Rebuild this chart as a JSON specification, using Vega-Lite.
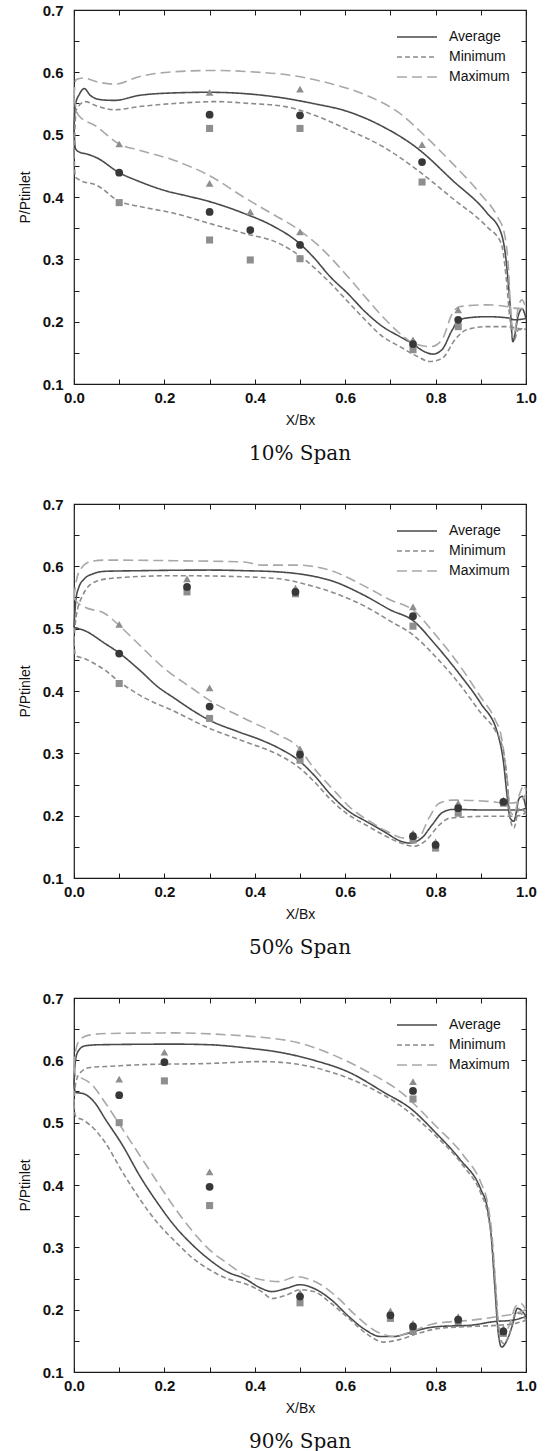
{
  "$schema": "https://vega.github.io/schema/vega-lite/v6.json",
  "background": "white",
  "padding": {"left": 17, "top": 2, "right": 5, "bottom": 0},
  "datasets": {
    "curves": [
      {"panel":"10","series":"Average","side":"upper","x":0,"y":0.51},{"panel":"10","series":"Average","side":"upper","x":0.003,"y":0.548},{"panel":"10","series":"Average","side":"upper","x":0.012,"y":0.565},{"panel":"10","series":"Average","side":"upper","x":0.023,"y":0.574},{"panel":"10","series":"Average","side":"upper","x":0.036,"y":0.563},{"panel":"10","series":"Average","side":"upper","x":0.06,"y":0.556},{"panel":"10","series":"Average","side":"upper","x":0.09,"y":0.555},{"panel":"10","series":"Average","side":"upper","x":0.144,"y":0.563},{"panel":"10","series":"Average","side":"upper","x":0.221,"y":0.567},{"panel":"10","series":"Average","side":"upper","x":0.298,"y":0.568},{"panel":"10","series":"Average","side":"upper","x":0.375,"y":0.566},{"panel":"10","series":"Average","side":"upper","x":0.452,"y":0.56},{"panel":"10","series":"Average","side":"upper","x":0.529,"y":0.55},{"panel":"10","series":"Average","side":"upper","x":0.606,"y":0.537},{"panel":"10","series":"Average","side":"upper","x":0.683,"y":0.513},{"panel":"10","series":"Average","side":"upper","x":0.76,"y":0.478},{"panel":"10","series":"Average","side":"upper","x":0.837,"y":0.427},{"panel":"10","series":"Average","side":"upper","x":0.914,"y":0.374},{"panel":"10","series":"Average","side":"upper","x":0.945,"y":0.342},{"panel":"10","series":"Average","side":"upper","x":0.954,"y":0.31},{"panel":"10","series":"Average","side":"upper","x":0.964,"y":0.235},{"panel":"10","series":"Average","side":"upper","x":0.971,"y":0.168},{"panel":"10","series":"Average","side":"upper","x":0.983,"y":0.21},{"panel":"10","series":"Average","side":"upper","x":0.991,"y":0.221},{"panel":"10","series":"Average","side":"upper","x":1.0,"y":0.205},
      {"panel":"10","series":"Average","side":"lower","x":0,"y":0.51},{"panel":"10","series":"Average","side":"lower","x":0.003,"y":0.478},{"panel":"10","series":"Average","side":"lower","x":0.012,"y":0.472},{"panel":"10","series":"Average","side":"lower","x":0.028,"y":0.469},{"panel":"10","series":"Average","side":"lower","x":0.05,"y":0.463},{"panel":"10","series":"Average","side":"lower","x":0.1,"y":0.439},{"panel":"10","series":"Average","side":"lower","x":0.144,"y":0.425},{"panel":"10","series":"Average","side":"lower","x":0.198,"y":0.411},{"panel":"10","series":"Average","side":"lower","x":0.26,"y":0.4},{"panel":"10","series":"Average","side":"lower","x":0.298,"y":0.393},{"panel":"10","series":"Average","side":"lower","x":0.375,"y":0.374},{"panel":"10","series":"Average","side":"lower","x":0.436,"y":0.355},{"panel":"10","series":"Average","side":"lower","x":0.498,"y":0.326},{"panel":"10","series":"Average","side":"lower","x":0.529,"y":0.304},{"panel":"10","series":"Average","side":"lower","x":0.567,"y":0.272},{"panel":"10","series":"Average","side":"lower","x":0.606,"y":0.245},{"panel":"10","series":"Average","side":"lower","x":0.644,"y":0.216},{"panel":"10","series":"Average","side":"lower","x":0.683,"y":0.192},{"panel":"10","series":"Average","side":"lower","x":0.721,"y":0.176},{"panel":"10","series":"Average","side":"lower","x":0.748,"y":0.165},{"panel":"10","series":"Average","side":"lower","x":0.775,"y":0.152},{"panel":"10","series":"Average","side":"lower","x":0.794,"y":0.148},{"panel":"10","series":"Average","side":"lower","x":0.814,"y":0.155},{"panel":"10","series":"Average","side":"lower","x":0.837,"y":0.187},{"panel":"10","series":"Average","side":"lower","x":0.852,"y":0.203},{"panel":"10","series":"Average","side":"lower","x":0.883,"y":0.207},{"panel":"10","series":"Average","side":"lower","x":0.914,"y":0.208},{"panel":"10","series":"Average","side":"lower","x":0.96,"y":0.206},{"panel":"10","series":"Average","side":"lower","x":0.975,"y":0.203},{"panel":"10","series":"Average","side":"lower","x":1.0,"y":0.205},
      {"panel":"10","series":"Maximum","side":"upper","x":0,"y":0.56},{"panel":"10","series":"Maximum","side":"upper","x":0.004,"y":0.588},{"panel":"10","series":"Maximum","side":"upper","x":0.021,"y":0.591},{"panel":"10","series":"Maximum","side":"upper","x":0.05,"y":0.585},{"panel":"10","series":"Maximum","side":"upper","x":0.09,"y":0.581},{"panel":"10","series":"Maximum","side":"upper","x":0.144,"y":0.593},{"panel":"10","series":"Maximum","side":"upper","x":0.221,"y":0.601},{"panel":"10","series":"Maximum","side":"upper","x":0.313,"y":0.603},{"panel":"10","series":"Maximum","side":"upper","x":0.39,"y":0.601},{"panel":"10","series":"Maximum","side":"upper","x":0.49,"y":0.594},{"panel":"10","series":"Maximum","side":"upper","x":0.567,"y":0.582},{"panel":"10","series":"Maximum","side":"upper","x":0.644,"y":0.564},{"panel":"10","series":"Maximum","side":"upper","x":0.721,"y":0.534},{"panel":"10","series":"Maximum","side":"upper","x":0.775,"y":0.499},{"panel":"10","series":"Maximum","side":"upper","x":0.837,"y":0.454},{"panel":"10","series":"Maximum","side":"upper","x":0.898,"y":0.406},{"panel":"10","series":"Maximum","side":"upper","x":0.937,"y":0.368},{"panel":"10","series":"Maximum","side":"upper","x":0.952,"y":0.342},{"panel":"10","series":"Maximum","side":"upper","x":0.961,"y":0.288},{"panel":"10","series":"Maximum","side":"upper","x":0.967,"y":0.208},{"panel":"10","series":"Maximum","side":"upper","x":0.974,"y":0.181},{"panel":"10","series":"Maximum","side":"upper","x":0.983,"y":0.224},{"panel":"10","series":"Maximum","side":"upper","x":0.991,"y":0.235},{"panel":"10","series":"Maximum","side":"upper","x":1.0,"y":0.221},
      {"panel":"10","series":"Maximum","side":"lower","x":0,"y":0.56},{"panel":"10","series":"Maximum","side":"lower","x":0.009,"y":0.532},{"panel":"10","series":"Maximum","side":"lower","x":0.05,"y":0.513},{"panel":"10","series":"Maximum","side":"lower","x":0.1,"y":0.485},{"panel":"10","series":"Maximum","side":"lower","x":0.144,"y":0.475},{"panel":"10","series":"Maximum","side":"lower","x":0.221,"y":0.459},{"panel":"10","series":"Maximum","side":"lower","x":0.298,"y":0.435},{"panel":"10","series":"Maximum","side":"lower","x":0.375,"y":0.4},{"panel":"10","series":"Maximum","side":"lower","x":0.436,"y":0.374},{"panel":"10","series":"Maximum","side":"lower","x":0.498,"y":0.347},{"panel":"10","series":"Maximum","side":"lower","x":0.544,"y":0.32},{"panel":"10","series":"Maximum","side":"lower","x":0.606,"y":0.272},{"panel":"10","series":"Maximum","side":"lower","x":0.644,"y":0.24},{"panel":"10","series":"Maximum","side":"lower","x":0.683,"y":0.208},{"panel":"10","series":"Maximum","side":"lower","x":0.721,"y":0.181},{"panel":"10","series":"Maximum","side":"lower","x":0.752,"y":0.165},{"panel":"10","series":"Maximum","side":"lower","x":0.79,"y":0.16},{"panel":"10","series":"Maximum","side":"lower","x":0.814,"y":0.171},{"panel":"10","series":"Maximum","side":"lower","x":0.837,"y":0.213},{"panel":"10","series":"Maximum","side":"lower","x":0.852,"y":0.224},{"panel":"10","series":"Maximum","side":"lower","x":0.914,"y":0.227},{"panel":"10","series":"Maximum","side":"lower","x":0.96,"y":0.224},{"panel":"10","series":"Maximum","side":"lower","x":0.983,"y":0.221},{"panel":"10","series":"Maximum","side":"lower","x":1.0,"y":0.221},
      {"panel":"10","series":"Minimum","side":"upper","x":0,"y":0.47},{"panel":"10","series":"Minimum","side":"upper","x":0.005,"y":0.54},{"panel":"10","series":"Minimum","side":"upper","x":0.025,"y":0.553},{"panel":"10","series":"Minimum","side":"upper","x":0.05,"y":0.546},{"panel":"10","series":"Minimum","side":"upper","x":0.09,"y":0.54},{"panel":"10","series":"Minimum","side":"upper","x":0.144,"y":0.545},{"panel":"10","series":"Minimum","side":"upper","x":0.221,"y":0.55},{"panel":"10","series":"Minimum","side":"upper","x":0.313,"y":0.553},{"panel":"10","series":"Minimum","side":"upper","x":0.39,"y":0.55},{"panel":"10","series":"Minimum","side":"upper","x":0.468,"y":0.545},{"panel":"10","series":"Minimum","side":"upper","x":0.529,"y":0.532},{"panel":"10","series":"Minimum","side":"upper","x":0.606,"y":0.508},{"panel":"10","series":"Minimum","side":"upper","x":0.683,"y":0.481},{"panel":"10","series":"Minimum","side":"upper","x":0.76,"y":0.443},{"panel":"10","series":"Minimum","side":"upper","x":0.837,"y":0.398},{"panel":"10","series":"Minimum","side":"upper","x":0.914,"y":0.352},{"panel":"10","series":"Minimum","side":"upper","x":0.945,"y":0.326},{"panel":"10","series":"Minimum","side":"upper","x":0.956,"y":0.272},{"panel":"10","series":"Minimum","side":"upper","x":0.964,"y":0.208},{"panel":"10","series":"Minimum","side":"upper","x":0.974,"y":0.171},{"panel":"10","series":"Minimum","side":"upper","x":0.983,"y":0.187},{"panel":"10","series":"Minimum","side":"upper","x":1.0,"y":0.188},
      {"panel":"10","series":"Minimum","side":"lower","x":0,"y":0.47},{"panel":"10","series":"Minimum","side":"lower","x":0.003,"y":0.432},{"panel":"10","series":"Minimum","side":"lower","x":0.013,"y":0.427},{"panel":"10","series":"Minimum","side":"lower","x":0.05,"y":0.419},{"panel":"10","series":"Minimum","side":"lower","x":0.1,"y":0.393},{"panel":"10","series":"Minimum","side":"lower","x":0.144,"y":0.385},{"panel":"10","series":"Minimum","side":"lower","x":0.221,"y":0.374},{"panel":"10","series":"Minimum","side":"lower","x":0.298,"y":0.358},{"panel":"10","series":"Minimum","side":"lower","x":0.375,"y":0.342},{"panel":"10","series":"Minimum","side":"lower","x":0.452,"y":0.326},{"panel":"10","series":"Minimum","side":"lower","x":0.506,"y":0.302},{"panel":"10","series":"Minimum","side":"lower","x":0.567,"y":0.262},{"panel":"10","series":"Minimum","side":"lower","x":0.606,"y":0.232},{"panel":"10","series":"Minimum","side":"lower","x":0.644,"y":0.203},{"panel":"10","series":"Minimum","side":"lower","x":0.683,"y":0.176},{"panel":"10","series":"Minimum","side":"lower","x":0.721,"y":0.16},{"panel":"10","series":"Minimum","side":"lower","x":0.76,"y":0.144},{"panel":"10","series":"Minimum","side":"lower","x":0.787,"y":0.136},{"panel":"10","series":"Minimum","side":"lower","x":0.814,"y":0.141},{"panel":"10","series":"Minimum","side":"lower","x":0.845,"y":0.173},{"panel":"10","series":"Minimum","side":"lower","x":0.868,"y":0.187},{"panel":"10","series":"Minimum","side":"lower","x":0.914,"y":0.192},{"panel":"10","series":"Minimum","side":"lower","x":0.96,"y":0.192},{"panel":"10","series":"Minimum","side":"lower","x":0.983,"y":0.189},{"panel":"10","series":"Minimum","side":"lower","x":1.0,"y":0.188},

      {"panel":"50","series":"Average","side":"upper","x":0,"y":0.502},{"panel":"50","series":"Average","side":"upper","x":0.004,"y":0.545},{"panel":"50","series":"Average","side":"upper","x":0.01,"y":0.565},{"panel":"50","series":"Average","side":"upper","x":0.023,"y":0.58},{"panel":"50","series":"Average","side":"upper","x":0.042,"y":0.588},{"panel":"50","series":"Average","side":"upper","x":0.069,"y":0.592},{"panel":"50","series":"Average","side":"upper","x":0.146,"y":0.593},{"panel":"50","series":"Average","side":"upper","x":0.3,"y":0.594},{"panel":"50","series":"Average","side":"upper","x":0.377,"y":0.593},{"panel":"50","series":"Average","side":"upper","x":0.454,"y":0.591},{"panel":"50","series":"Average","side":"upper","x":0.515,"y":0.586},{"panel":"50","series":"Average","side":"upper","x":0.569,"y":0.577},{"panel":"50","series":"Average","side":"upper","x":0.646,"y":0.552},{"panel":"50","series":"Average","side":"upper","x":0.7,"y":0.53},{"panel":"50","series":"Average","side":"upper","x":0.75,"y":0.513},{"panel":"50","series":"Average","side":"upper","x":0.8,"y":0.474},{"panel":"50","series":"Average","side":"upper","x":0.854,"y":0.426},{"panel":"50","series":"Average","side":"upper","x":0.9,"y":0.38},{"panel":"50","series":"Average","side":"upper","x":0.938,"y":0.33},{"panel":"50","series":"Average","side":"upper","x":0.95,"y":0.287},{"panel":"50","series":"Average","side":"upper","x":0.958,"y":0.233},{"panel":"50","series":"Average","side":"upper","x":0.965,"y":0.196},{"panel":"50","series":"Average","side":"upper","x":0.973,"y":0.191},{"panel":"50","series":"Average","side":"upper","x":0.985,"y":0.228},{"panel":"50","series":"Average","side":"upper","x":0.992,"y":0.231},{"panel":"50","series":"Average","side":"upper","x":1.0,"y":0.212},
      {"panel":"50","series":"Average","side":"lower","x":0,"y":0.502},{"panel":"50","series":"Average","side":"lower","x":0.023,"y":0.497},{"panel":"50","series":"Average","side":"lower","x":0.069,"y":0.476},{"panel":"50","series":"Average","side":"lower","x":0.1,"y":0.461},{"panel":"50","series":"Average","side":"lower","x":0.146,"y":0.433},{"panel":"50","series":"Average","side":"lower","x":0.185,"y":0.407},{"panel":"50","series":"Average","side":"lower","x":0.223,"y":0.388},{"panel":"50","series":"Average","side":"lower","x":0.262,"y":0.369},{"panel":"50","series":"Average","side":"lower","x":0.3,"y":0.353},{"panel":"50","series":"Average","side":"lower","x":0.362,"y":0.335},{"panel":"50","series":"Average","side":"lower","x":0.415,"y":0.321},{"panel":"50","series":"Average","side":"lower","x":0.454,"y":0.308},{"panel":"50","series":"Average","side":"lower","x":0.5,"y":0.287},{"panel":"50","series":"Average","side":"lower","x":0.531,"y":0.265},{"panel":"50","series":"Average","side":"lower","x":0.569,"y":0.233},{"panel":"50","series":"Average","side":"lower","x":0.608,"y":0.207},{"panel":"50","series":"Average","side":"lower","x":0.646,"y":0.191},{"panel":"50","series":"Average","side":"lower","x":0.685,"y":0.175},{"panel":"50","series":"Average","side":"lower","x":0.723,"y":0.159},{"panel":"50","series":"Average","side":"lower","x":0.742,"y":0.156},{"panel":"50","series":"Average","side":"lower","x":0.769,"y":0.164},{"panel":"50","series":"Average","side":"lower","x":0.792,"y":0.185},{"panel":"50","series":"Average","side":"lower","x":0.815,"y":0.205},{"panel":"50","series":"Average","side":"lower","x":0.838,"y":0.21},{"panel":"50","series":"Average","side":"lower","x":0.915,"y":0.209},{"panel":"50","series":"Average","side":"lower","x":0.962,"y":0.209},{"panel":"50","series":"Average","side":"lower","x":0.985,"y":0.209},{"panel":"50","series":"Average","side":"lower","x":1.0,"y":0.212},
      {"panel":"50","series":"Maximum","side":"upper","x":0,"y":0.55},{"panel":"50","series":"Maximum","side":"upper","x":0.004,"y":0.572},{"panel":"50","series":"Maximum","side":"upper","x":0.015,"y":0.596},{"panel":"50","series":"Maximum","side":"upper","x":0.038,"y":0.608},{"panel":"50","series":"Maximum","side":"upper","x":0.069,"y":0.61},{"panel":"50","series":"Maximum","side":"upper","x":0.223,"y":0.609},{"panel":"50","series":"Maximum","side":"upper","x":0.377,"y":0.607},{"panel":"50","series":"Maximum","side":"upper","x":0.415,"y":0.602},{"panel":"50","series":"Maximum","side":"upper","x":0.492,"y":0.602},{"panel":"50","series":"Maximum","side":"upper","x":0.569,"y":0.593},{"panel":"50","series":"Maximum","side":"upper","x":0.646,"y":0.567},{"panel":"50","series":"Maximum","side":"upper","x":0.7,"y":0.546},{"panel":"50","series":"Maximum","side":"upper","x":0.75,"y":0.53},{"panel":"50","series":"Maximum","side":"upper","x":0.8,"y":0.49},{"panel":"50","series":"Maximum","side":"upper","x":0.854,"y":0.44},{"panel":"50","series":"Maximum","side":"upper","x":0.9,"y":0.39},{"panel":"50","series":"Maximum","side":"upper","x":0.931,"y":0.355},{"panel":"50","series":"Maximum","side":"upper","x":0.946,"y":0.325},{"panel":"50","series":"Maximum","side":"upper","x":0.958,"y":0.26},{"panel":"50","series":"Maximum","side":"upper","x":0.965,"y":0.207},{"panel":"50","series":"Maximum","side":"upper","x":0.973,"y":0.201},{"panel":"50","series":"Maximum","side":"upper","x":0.985,"y":0.233},{"panel":"50","series":"Maximum","side":"upper","x":0.996,"y":0.249},{"panel":"50","series":"Maximum","side":"upper","x":1.0,"y":0.24},
      {"panel":"50","series":"Maximum","side":"lower","x":0,"y":0.55},{"panel":"50","series":"Maximum","side":"lower","x":0.004,"y":0.545},{"panel":"50","series":"Maximum","side":"lower","x":0.023,"y":0.535},{"panel":"50","series":"Maximum","side":"lower","x":0.069,"y":0.524},{"panel":"50","series":"Maximum","side":"lower","x":0.1,"y":0.505},{"panel":"50","series":"Maximum","side":"lower","x":0.146,"y":0.473},{"panel":"50","series":"Maximum","side":"lower","x":0.2,"y":0.436},{"panel":"50","series":"Maximum","side":"lower","x":0.262,"y":0.404},{"panel":"50","series":"Maximum","side":"lower","x":0.3,"y":0.385},{"panel":"50","series":"Maximum","side":"lower","x":0.377,"y":0.356},{"panel":"50","series":"Maximum","side":"lower","x":0.454,"y":0.329},{"panel":"50","series":"Maximum","side":"lower","x":0.492,"y":0.313},{"panel":"50","series":"Maximum","side":"lower","x":0.531,"y":0.276},{"panel":"50","series":"Maximum","side":"lower","x":0.577,"y":0.239},{"panel":"50","series":"Maximum","side":"lower","x":0.608,"y":0.215},{"panel":"50","series":"Maximum","side":"lower","x":0.654,"y":0.191},{"panel":"50","series":"Maximum","side":"lower","x":0.692,"y":0.175},{"panel":"50","series":"Maximum","side":"lower","x":0.731,"y":0.164},{"panel":"50","series":"Maximum","side":"lower","x":0.762,"y":0.165},{"panel":"50","series":"Maximum","side":"lower","x":0.785,"y":0.196},{"panel":"50","series":"Maximum","side":"lower","x":0.808,"y":0.22},{"panel":"50","series":"Maximum","side":"lower","x":0.838,"y":0.225},{"panel":"50","series":"Maximum","side":"lower","x":0.915,"y":0.223},{"panel":"50","series":"Maximum","side":"lower","x":0.962,"y":0.22},{"panel":"50","series":"Maximum","side":"lower","x":0.985,"y":0.222},{"panel":"50","series":"Maximum","side":"lower","x":1.0,"y":0.235},
      {"panel":"50","series":"Minimum","side":"upper","x":0,"y":0.48},{"panel":"50","series":"Minimum","side":"upper","x":0.004,"y":0.516},{"panel":"50","series":"Minimum","side":"upper","x":0.019,"y":0.553},{"panel":"50","series":"Minimum","side":"upper","x":0.046,"y":0.575},{"panel":"50","series":"Minimum","side":"upper","x":0.085,"y":0.581},{"panel":"50","series":"Minimum","side":"upper","x":0.223,"y":0.585},{"panel":"50","series":"Minimum","side":"upper","x":0.338,"y":0.584},{"panel":"50","series":"Minimum","side":"upper","x":0.454,"y":0.58},{"panel":"50","series":"Minimum","side":"upper","x":0.508,"y":0.572},{"panel":"50","series":"Minimum","side":"upper","x":0.569,"y":0.559},{"panel":"50","series":"Minimum","side":"upper","x":0.646,"y":0.535},{"panel":"50","series":"Minimum","side":"upper","x":0.7,"y":0.512},{"panel":"50","series":"Minimum","side":"upper","x":0.75,"y":0.49},{"panel":"50","series":"Minimum","side":"upper","x":0.8,"y":0.455},{"panel":"50","series":"Minimum","side":"upper","x":0.854,"y":0.41},{"panel":"50","series":"Minimum","side":"upper","x":0.9,"y":0.365},{"panel":"50","series":"Minimum","side":"upper","x":0.931,"y":0.338},{"panel":"50","series":"Minimum","side":"upper","x":0.946,"y":0.315},{"panel":"50","series":"Minimum","side":"upper","x":0.958,"y":0.26},{"panel":"50","series":"Minimum","side":"upper","x":0.965,"y":0.196},{"panel":"50","series":"Minimum","side":"upper","x":0.973,"y":0.18},{"panel":"50","series":"Minimum","side":"upper","x":0.985,"y":0.212},{"panel":"50","series":"Minimum","side":"upper","x":1.0,"y":0.205},
      {"panel":"50","series":"Minimum","side":"lower","x":0,"y":0.48},{"panel":"50","series":"Minimum","side":"lower","x":0.003,"y":0.457},{"panel":"50","series":"Minimum","side":"lower","x":0.023,"y":0.452},{"panel":"50","series":"Minimum","side":"lower","x":0.069,"y":0.433},{"panel":"50","series":"Minimum","side":"lower","x":0.1,"y":0.415},{"panel":"50","series":"Minimum","side":"lower","x":0.146,"y":0.393},{"panel":"50","series":"Minimum","side":"lower","x":0.223,"y":0.367},{"panel":"50","series":"Minimum","side":"lower","x":0.3,"y":0.34},{"panel":"50","series":"Minimum","side":"lower","x":0.377,"y":0.319},{"panel":"50","series":"Minimum","side":"lower","x":0.454,"y":0.297},{"panel":"50","series":"Minimum","side":"lower","x":0.5,"y":0.276},{"panel":"50","series":"Minimum","side":"lower","x":0.531,"y":0.255},{"panel":"50","series":"Minimum","side":"lower","x":0.569,"y":0.225},{"panel":"50","series":"Minimum","side":"lower","x":0.608,"y":0.201},{"panel":"50","series":"Minimum","side":"lower","x":0.646,"y":0.185},{"panel":"50","series":"Minimum","side":"lower","x":0.685,"y":0.169},{"panel":"50","series":"Minimum","side":"lower","x":0.723,"y":0.156},{"panel":"50","series":"Minimum","side":"lower","x":0.754,"y":0.151},{"panel":"50","series":"Minimum","side":"lower","x":0.777,"y":0.159},{"panel":"50","series":"Minimum","side":"lower","x":0.808,"y":0.185},{"panel":"50","series":"Minimum","side":"lower","x":0.831,"y":0.196},{"panel":"50","series":"Minimum","side":"lower","x":0.915,"y":0.199},{"panel":"50","series":"Minimum","side":"lower","x":0.962,"y":0.199},{"panel":"50","series":"Minimum","side":"lower","x":0.985,"y":0.2},{"panel":"50","series":"Minimum","side":"lower","x":1.0,"y":0.205},

      {"panel":"90","series":"Average","side":"upper","x":0,"y":0.56},{"panel":"90","series":"Average","side":"upper","x":0.002,"y":0.592},{"panel":"90","series":"Average","side":"upper","x":0.008,"y":0.613},{"panel":"90","series":"Average","side":"upper","x":0.023,"y":0.623},{"panel":"90","series":"Average","side":"upper","x":0.054,"y":0.625},{"panel":"90","series":"Average","side":"upper","x":0.223,"y":0.626},{"panel":"90","series":"Average","side":"upper","x":0.3,"y":0.625},{"panel":"90","series":"Average","side":"upper","x":0.392,"y":0.619},{"panel":"90","series":"Average","side":"upper","x":0.454,"y":0.613},{"panel":"90","series":"Average","side":"upper","x":0.531,"y":0.6},{"panel":"90","series":"Average","side":"upper","x":0.608,"y":0.581},{"panel":"90","series":"Average","side":"upper","x":0.685,"y":0.549},{"panel":"90","series":"Average","side":"upper","x":0.746,"y":0.522},{"panel":"90","series":"Average","side":"upper","x":0.8,"y":0.484},{"panel":"90","series":"Average","side":"upper","x":0.854,"y":0.441},{"panel":"90","series":"Average","side":"upper","x":0.9,"y":0.393},{"panel":"90","series":"Average","side":"upper","x":0.915,"y":0.361},{"panel":"90","series":"Average","side":"upper","x":0.923,"y":0.318},{"panel":"90","series":"Average","side":"upper","x":0.931,"y":0.237},{"panel":"90","series":"Average","side":"upper","x":0.938,"y":0.167},{"panel":"90","series":"Average","side":"upper","x":0.946,"y":0.14},{"panel":"90","series":"Average","side":"upper","x":0.958,"y":0.151},{"panel":"90","series":"Average","side":"upper","x":0.969,"y":0.173},{"panel":"90","series":"Average","side":"upper","x":0.981,"y":0.202},{"panel":"90","series":"Average","side":"upper","x":0.988,"y":0.2},{"panel":"90","series":"Average","side":"upper","x":1.0,"y":0.189},
      {"panel":"90","series":"Average","side":"lower","x":0,"y":0.56},{"panel":"90","series":"Average","side":"lower","x":0.003,"y":0.549},{"panel":"90","series":"Average","side":"lower","x":0.023,"y":0.546},{"panel":"90","series":"Average","side":"lower","x":0.046,"y":0.532},{"panel":"90","series":"Average","side":"lower","x":0.069,"y":0.506},{"panel":"90","series":"Average","side":"lower","x":0.108,"y":0.463},{"panel":"90","series":"Average","side":"lower","x":0.146,"y":0.414},{"panel":"90","series":"Average","side":"lower","x":0.185,"y":0.371},{"panel":"90","series":"Average","side":"lower","x":0.223,"y":0.334},{"panel":"90","series":"Average","side":"lower","x":0.262,"y":0.304},{"panel":"90","series":"Average","side":"lower","x":0.3,"y":0.28},{"panel":"90","series":"Average","side":"lower","x":0.338,"y":0.261},{"panel":"90","series":"Average","side":"lower","x":0.377,"y":0.25},{"panel":"90","series":"Average","side":"lower","x":0.415,"y":0.234},{"panel":"90","series":"Average","side":"lower","x":0.438,"y":0.229},{"panel":"90","series":"Average","side":"lower","x":0.469,"y":0.234},{"panel":"90","series":"Average","side":"lower","x":0.5,"y":0.24},{"panel":"90","series":"Average","side":"lower","x":0.531,"y":0.234},{"panel":"90","series":"Average","side":"lower","x":0.569,"y":0.216},{"panel":"90","series":"Average","side":"lower","x":0.608,"y":0.189},{"panel":"90","series":"Average","side":"lower","x":0.646,"y":0.167},{"panel":"90","series":"Average","side":"lower","x":0.677,"y":0.157},{"panel":"90","series":"Average","side":"lower","x":0.708,"y":0.157},{"panel":"90","series":"Average","side":"lower","x":0.738,"y":0.162},{"panel":"90","series":"Average","side":"lower","x":0.777,"y":0.17},{"panel":"90","series":"Average","side":"lower","x":0.808,"y":0.173},{"panel":"90","series":"Average","side":"lower","x":0.877,"y":0.175},{"panel":"90","series":"Average","side":"lower","x":0.931,"y":0.181},{"panel":"90","series":"Average","side":"lower","x":0.969,"y":0.183},{"panel":"90","series":"Average","side":"lower","x":1.0,"y":0.189},
      {"panel":"90","series":"Maximum","side":"upper","x":0,"y":0.59},{"panel":"90","series":"Maximum","side":"upper","x":0.003,"y":0.613},{"panel":"90","series":"Maximum","side":"upper","x":0.012,"y":0.632},{"panel":"90","series":"Maximum","side":"upper","x":0.031,"y":0.64},{"panel":"90","series":"Maximum","side":"upper","x":0.069,"y":0.643},{"panel":"90","series":"Maximum","side":"upper","x":0.223,"y":0.644},{"panel":"90","series":"Maximum","side":"upper","x":0.338,"y":0.641},{"panel":"90","series":"Maximum","side":"upper","x":0.415,"y":0.637},{"panel":"90","series":"Maximum","side":"upper","x":0.492,"y":0.629},{"panel":"90","series":"Maximum","side":"upper","x":0.569,"y":0.61},{"panel":"90","series":"Maximum","side":"upper","x":0.646,"y":0.583},{"panel":"90","series":"Maximum","side":"upper","x":0.723,"y":0.549},{"panel":"90","series":"Maximum","side":"upper","x":0.8,"y":0.495},{"panel":"90","series":"Maximum","side":"upper","x":0.862,"y":0.447},{"panel":"90","series":"Maximum","side":"upper","x":0.9,"y":0.404},{"panel":"90","series":"Maximum","side":"upper","x":0.915,"y":0.371},{"panel":"90","series":"Maximum","side":"upper","x":0.925,"y":0.318},{"panel":"90","series":"Maximum","side":"upper","x":0.933,"y":0.237},{"panel":"90","series":"Maximum","side":"upper","x":0.94,"y":0.173},{"panel":"90","series":"Maximum","side":"upper","x":0.95,"y":0.162},{"panel":"90","series":"Maximum","side":"upper","x":0.962,"y":0.173},{"panel":"90","series":"Maximum","side":"upper","x":0.977,"y":0.205},{"panel":"90","series":"Maximum","side":"upper","x":0.988,"y":0.21},{"panel":"90","series":"Maximum","side":"upper","x":1.0,"y":0.2},
      {"panel":"90","series":"Maximum","side":"lower","x":0,"y":0.59},{"panel":"90","series":"Maximum","side":"lower","x":0.004,"y":0.575},{"panel":"90","series":"Maximum","side":"lower","x":0.015,"y":0.572},{"panel":"90","series":"Maximum","side":"lower","x":0.038,"y":0.562},{"panel":"90","series":"Maximum","side":"lower","x":0.069,"y":0.532},{"panel":"90","series":"Maximum","side":"lower","x":0.108,"y":0.489},{"panel":"90","series":"Maximum","side":"lower","x":0.146,"y":0.447},{"panel":"90","series":"Maximum","side":"lower","x":0.185,"y":0.404},{"panel":"90","series":"Maximum","side":"lower","x":0.223,"y":0.363},{"panel":"90","series":"Maximum","side":"lower","x":0.262,"y":0.326},{"panel":"90","series":"Maximum","side":"lower","x":0.3,"y":0.296},{"panel":"90","series":"Maximum","side":"lower","x":0.338,"y":0.275},{"panel":"90","series":"Maximum","side":"lower","x":0.377,"y":0.256},{"panel":"90","series":"Maximum","side":"lower","x":0.415,"y":0.248},{"panel":"90","series":"Maximum","side":"lower","x":0.454,"y":0.245},{"panel":"90","series":"Maximum","side":"lower","x":0.492,"y":0.253},{"panel":"90","series":"Maximum","side":"lower","x":0.515,"y":0.25},{"panel":"90","series":"Maximum","side":"lower","x":0.546,"y":0.24},{"panel":"90","series":"Maximum","side":"lower","x":0.585,"y":0.218},{"panel":"90","series":"Maximum","side":"lower","x":0.623,"y":0.191},{"panel":"90","series":"Maximum","side":"lower","x":0.669,"y":0.165},{"panel":"90","series":"Maximum","side":"lower","x":0.708,"y":0.157},{"panel":"90","series":"Maximum","side":"lower","x":0.746,"y":0.165},{"panel":"90","series":"Maximum","side":"lower","x":0.8,"y":0.178},{"panel":"90","series":"Maximum","side":"lower","x":0.877,"y":0.183},{"panel":"90","series":"Maximum","side":"lower","x":0.938,"y":0.189},{"panel":"90","series":"Maximum","side":"lower","x":0.977,"y":0.194},{"panel":"90","series":"Maximum","side":"lower","x":1.0,"y":0.2},
      {"panel":"90","series":"Minimum","side":"upper","x":0,"y":0.53},{"panel":"90","series":"Minimum","side":"upper","x":0.004,"y":0.565},{"panel":"90","series":"Minimum","side":"upper","x":0.015,"y":0.581},{"panel":"90","series":"Minimum","side":"upper","x":0.038,"y":0.589},{"panel":"90","series":"Minimum","side":"upper","x":0.069,"y":0.59},{"panel":"90","series":"Minimum","side":"upper","x":0.146,"y":0.593},{"panel":"90","series":"Minimum","side":"upper","x":0.3,"y":0.595},{"panel":"90","series":"Minimum","side":"upper","x":0.415,"y":0.598},{"panel":"90","series":"Minimum","side":"upper","x":0.492,"y":0.594},{"panel":"90","series":"Minimum","side":"upper","x":0.569,"y":0.581},{"panel":"90","series":"Minimum","side":"upper","x":0.646,"y":0.559},{"panel":"90","series":"Minimum","side":"upper","x":0.723,"y":0.527},{"panel":"90","series":"Minimum","side":"upper","x":0.8,"y":0.479},{"panel":"90","series":"Minimum","side":"upper","x":0.862,"y":0.43},{"panel":"90","series":"Minimum","side":"upper","x":0.9,"y":0.387},{"panel":"90","series":"Minimum","side":"upper","x":0.915,"y":0.355},{"panel":"90","series":"Minimum","side":"upper","x":0.925,"y":0.307},{"panel":"90","series":"Minimum","side":"upper","x":0.933,"y":0.232},{"panel":"90","series":"Minimum","side":"upper","x":0.94,"y":0.162},{"panel":"90","series":"Minimum","side":"upper","x":0.95,"y":0.146},{"panel":"90","series":"Minimum","side":"upper","x":0.962,"y":0.157},{"panel":"90","series":"Minimum","side":"upper","x":0.977,"y":0.194},{"panel":"90","series":"Minimum","side":"upper","x":0.988,"y":0.194},{"panel":"90","series":"Minimum","side":"upper","x":1.0,"y":0.183},
      {"panel":"90","series":"Minimum","side":"lower","x":0,"y":0.53},{"panel":"90","series":"Minimum","side":"lower","x":0.003,"y":0.511},{"panel":"90","series":"Minimum","side":"lower","x":0.023,"y":0.503},{"panel":"90","series":"Minimum","side":"lower","x":0.046,"y":0.489},{"panel":"90","series":"Minimum","side":"lower","x":0.069,"y":0.468},{"panel":"90","series":"Minimum","side":"lower","x":0.108,"y":0.42},{"panel":"90","series":"Minimum","side":"lower","x":0.146,"y":0.377},{"panel":"90","series":"Minimum","side":"lower","x":0.185,"y":0.339},{"panel":"90","series":"Minimum","side":"lower","x":0.223,"y":0.31},{"panel":"90","series":"Minimum","side":"lower","x":0.262,"y":0.283},{"panel":"90","series":"Minimum","side":"lower","x":0.3,"y":0.264},{"panel":"90","series":"Minimum","side":"lower","x":0.338,"y":0.25},{"panel":"90","series":"Minimum","side":"lower","x":0.377,"y":0.242},{"panel":"90","series":"Minimum","side":"lower","x":0.415,"y":0.229},{"panel":"90","series":"Minimum","side":"lower","x":0.438,"y":0.218},{"panel":"90","series":"Minimum","side":"lower","x":0.469,"y":0.223},{"panel":"90","series":"Minimum","side":"lower","x":0.5,"y":0.232},{"panel":"90","series":"Minimum","side":"lower","x":0.531,"y":0.229},{"panel":"90","series":"Minimum","side":"lower","x":0.569,"y":0.21},{"panel":"90","series":"Minimum","side":"lower","x":0.608,"y":0.186},{"panel":"90","series":"Minimum","side":"lower","x":0.646,"y":0.162},{"panel":"90","series":"Minimum","side":"lower","x":0.685,"y":0.148},{"panel":"90","series":"Minimum","side":"lower","x":0.715,"y":0.151},{"panel":"90","series":"Minimum","side":"lower","x":0.762,"y":0.162},{"panel":"90","series":"Minimum","side":"lower","x":0.808,"y":0.17},{"panel":"90","series":"Minimum","side":"lower","x":0.877,"y":0.173},{"panel":"90","series":"Minimum","side":"lower","x":0.938,"y":0.175},{"panel":"90","series":"Minimum","side":"lower","x":0.977,"y":0.178},{"panel":"90","series":"Minimum","side":"lower","x":1.0,"y":0.183}
    ],
    "points": [
      {"panel":"10","exp":"Average","x":0.1,"y":0.439},{"panel":"10","exp":"Average","x":0.3,"y":0.532},{"panel":"10","exp":"Average","x":0.3,"y":0.376},{"panel":"10","exp":"Average","x":0.39,"y":0.347},{"panel":"10","exp":"Average","x":0.5,"y":0.531},{"panel":"10","exp":"Average","x":0.5,"y":0.323},{"panel":"10","exp":"Average","x":0.77,"y":0.456},{"panel":"10","exp":"Average","x":0.75,"y":0.164},{"panel":"10","exp":"Average","x":0.85,"y":0.203},
      {"panel":"10","exp":"Minimum","x":0.1,"y":0.391},{"panel":"10","exp":"Minimum","x":0.3,"y":0.51},{"panel":"10","exp":"Minimum","x":0.3,"y":0.331},{"panel":"10","exp":"Minimum","x":0.39,"y":0.299},{"panel":"10","exp":"Minimum","x":0.5,"y":0.51},{"panel":"10","exp":"Minimum","x":0.5,"y":0.301},{"panel":"10","exp":"Minimum","x":0.77,"y":0.424},{"panel":"10","exp":"Minimum","x":0.75,"y":0.155},{"panel":"10","exp":"Minimum","x":0.85,"y":0.192},
      {"panel":"10","exp":"Maximum","x":0.1,"y":0.485},{"panel":"10","exp":"Maximum","x":0.3,"y":0.568},{"panel":"10","exp":"Maximum","x":0.3,"y":0.422},{"panel":"10","exp":"Maximum","x":0.39,"y":0.376},{"panel":"10","exp":"Maximum","x":0.5,"y":0.573},{"panel":"10","exp":"Maximum","x":0.5,"y":0.344},{"panel":"10","exp":"Maximum","x":0.77,"y":0.484},{"panel":"10","exp":"Maximum","x":0.75,"y":0.171},{"panel":"10","exp":"Maximum","x":0.85,"y":0.219},
      {"panel":"50","exp":"Average","x":0.1,"y":0.46},{"panel":"50","exp":"Average","x":0.25,"y":0.567},{"panel":"50","exp":"Average","x":0.3,"y":0.375},{"panel":"50","exp":"Average","x":0.49,"y":0.559},{"panel":"50","exp":"Average","x":0.5,"y":0.298},{"panel":"50","exp":"Average","x":0.75,"y":0.52},{"panel":"50","exp":"Average","x":0.75,"y":0.167},{"panel":"50","exp":"Average","x":0.8,"y":0.153},{"panel":"50","exp":"Average","x":0.85,"y":0.212},{"panel":"50","exp":"Average","x":0.95,"y":0.222},
      {"panel":"50","exp":"Minimum","x":0.1,"y":0.412},{"panel":"50","exp":"Minimum","x":0.25,"y":0.559},{"panel":"50","exp":"Minimum","x":0.3,"y":0.356},{"panel":"50","exp":"Minimum","x":0.49,"y":0.556},{"panel":"50","exp":"Minimum","x":0.5,"y":0.289},{"panel":"50","exp":"Minimum","x":0.75,"y":0.504},{"panel":"50","exp":"Minimum","x":0.75,"y":0.161},{"panel":"50","exp":"Minimum","x":0.8,"y":0.148},{"panel":"50","exp":"Minimum","x":0.85,"y":0.204},{"panel":"50","exp":"Minimum","x":0.95,"y":0.22},
      {"panel":"50","exp":"Maximum","x":0.1,"y":0.507},{"panel":"50","exp":"Maximum","x":0.25,"y":0.58},{"panel":"50","exp":"Maximum","x":0.3,"y":0.405},{"panel":"50","exp":"Maximum","x":0.49,"y":0.565},{"panel":"50","exp":"Maximum","x":0.5,"y":0.307},{"panel":"50","exp":"Maximum","x":0.75,"y":0.535},{"panel":"50","exp":"Maximum","x":0.75,"y":0.172},{"panel":"50","exp":"Maximum","x":0.8,"y":0.158},{"panel":"50","exp":"Maximum","x":0.85,"y":0.22},{"panel":"50","exp":"Maximum","x":0.95,"y":0.225},
      {"panel":"90","exp":"Average","x":0.1,"y":0.544},{"panel":"90","exp":"Average","x":0.2,"y":0.597},{"panel":"90","exp":"Average","x":0.3,"y":0.397},{"panel":"90","exp":"Average","x":0.5,"y":0.221},{"panel":"90","exp":"Average","x":0.7,"y":0.191},{"panel":"90","exp":"Average","x":0.75,"y":0.551},{"panel":"90","exp":"Average","x":0.75,"y":0.173},{"panel":"90","exp":"Average","x":0.85,"y":0.184},{"panel":"90","exp":"Average","x":0.95,"y":0.165},
      {"panel":"90","exp":"Minimum","x":0.1,"y":0.5},{"panel":"90","exp":"Minimum","x":0.2,"y":0.567},{"panel":"90","exp":"Minimum","x":0.3,"y":0.367},{"panel":"90","exp":"Minimum","x":0.5,"y":0.211},{"panel":"90","exp":"Minimum","x":0.7,"y":0.186},{"panel":"90","exp":"Minimum","x":0.75,"y":0.538},{"panel":"90","exp":"Minimum","x":0.75,"y":0.165},{"panel":"90","exp":"Minimum","x":0.85,"y":0.181},{"panel":"90","exp":"Minimum","x":0.95,"y":0.162},
      {"panel":"90","exp":"Maximum","x":0.1,"y":0.57},{"panel":"90","exp":"Maximum","x":0.2,"y":0.613},{"panel":"90","exp":"Maximum","x":0.3,"y":0.421},{"panel":"90","exp":"Maximum","x":0.5,"y":0.227},{"panel":"90","exp":"Maximum","x":0.7,"y":0.198},{"panel":"90","exp":"Maximum","x":0.75,"y":0.566},{"panel":"90","exp":"Maximum","x":0.75,"y":0.178},{"panel":"90","exp":"Maximum","x":0.85,"y":0.189},{"panel":"90","exp":"Maximum","x":0.95,"y":0.17}
    ]
  },
  "bounds": "flush",
  "spacing": 120,
  "resolve": {
    "scale": {"color": "independent", "strokeDash": "independent"},
    "legend": {"color": "independent", "strokeDash": "independent"}
  },
  "vconcat": [
    {
      "width": 452, "height": 374,
      "title": {"text": "10% Span"},
      "resolve": {"axis": {"x": "independent", "y": "independent"}},
      "layer": [
        {
          "data": {"name": "curves"},
          "transform": [{"filter": "datum.panel == '10'"}],
          "mark": {"type": "line", "strokeWidth": 1.6, "interpolate": "monotone"},
          "encoding": {
            "x": {"field": "x", "type": "quantitative", "scale": {"domain": [0, 1], "nice": false, "zero": false},
                  "axis": {"orient": "bottom", "title": "X/Bx", "values": [0,0.1,0.2,0.3,0.4,0.5,0.6,0.7,0.8,0.9,1.0], "labelExpr": "round(datum.value*10)%2==0 ? format(datum.value,'.1f') : ''"}},
            "y": {"field": "y", "type": "quantitative", "scale": {"domain": [0.1, 0.7], "nice": false, "zero": false},
                  "axis": {"orient": "left", "title": "P/Ptinlet", "values": [0.1,0.15,0.2,0.25,0.3,0.35,0.4,0.45,0.5,0.55,0.6,0.65,0.7], "labelExpr": "round(datum.value*20)%2==0 ? format(datum.value,'.1f') : ''"}},
            "detail": {"field": "side"},
            "color": {"field": "series", "type": "nominal", "scale": {"domain": ["Average","Minimum","Maximum"], "range": ["#4a4a4a","#8c8c8c","#a8a8a8"]},
                      "legend": {"orient": "none", "legendX": 334, "legendY": 18, "title": null, "symbolType": "M-2.5,0H2.5", "symbolSize": 256, "symbolStrokeWidth": 1.6, "labelOffset": 23, "rowPadding": 4, "padding": 0}},
            "strokeDash": {"field": "series", "type": "nominal", "scale": {"domain": ["Average","Minimum","Maximum"], "range": [[1,0],[5,3],[10,5]]},
                      "legend": {"orient": "none", "legendX": 334, "legendY": 18, "title": null, "symbolType": "M-2.5,0H2.5", "symbolSize": 256, "symbolStrokeWidth": 1.6, "labelOffset": 23, "rowPadding": 4, "padding": 0}}
          }
        },
        {
          "data": {"name": "points"},
          "transform": [{"filter": "datum.panel == '10' && datum.exp == 'Maximum'"}],
          "mark": {"type": "point", "shape": "triangle-up", "filled": true, "size": 60, "opacity": 1, "color": "#8e8e8e"},
          "encoding": {
            "x": {"field": "x", "type": "quantitative", "scale": {"domain": [0, 1], "nice": false, "zero": false},
                  "axis": {"orient": "top", "title": null, "labels": false, "values": [0,0.1,0.2,0.3,0.4,0.5,0.6,0.7,0.8,0.9,1.0]}},
            "y": {"field": "y", "type": "quantitative", "scale": {"domain": [0.1, 0.7], "nice": false, "zero": false},
                  "axis": {"orient": "right", "title": null, "labels": false, "values": [0.1,0.15,0.2,0.25,0.3,0.35,0.4,0.45,0.5,0.55,0.6,0.65,0.7]}}
          }
        },
        {
          "data": {"name": "points"},
          "transform": [{"filter": "datum.panel == '10' && datum.exp == 'Minimum'"}],
          "mark": {"type": "point", "shape": "square", "filled": true, "size": 50, "opacity": 1, "color": "#8e8e8e"},
          "encoding": {
            "x": {"field": "x", "type": "quantitative", "scale": {"domain": [0, 1], "nice": false, "zero": false}, "axis": null},
            "y": {"field": "y", "type": "quantitative", "scale": {"domain": [0.1, 0.7], "nice": false, "zero": false}, "axis": null}
          }
        },
        {
          "data": {"name": "points"},
          "transform": [{"filter": "datum.panel == '10' && datum.exp == 'Average'"}],
          "mark": {"type": "point", "shape": "circle", "filled": true, "size": 60, "opacity": 1, "color": "#383838"},
          "encoding": {
            "x": {"field": "x", "type": "quantitative", "scale": {"domain": [0, 1], "nice": false, "zero": false}, "axis": null},
            "y": {"field": "y", "type": "quantitative", "scale": {"domain": [0.1, 0.7], "nice": false, "zero": false}, "axis": null}
          }
        }
      ]
    },
    {
      "width": 452, "height": 374,
      "title": {"text": "50% Span"},
      "resolve": {"axis": {"x": "independent", "y": "independent"}},
      "layer": [
        {
          "data": {"name": "curves"},
          "transform": [{"filter": "datum.panel == '50'"}],
          "mark": {"type": "line", "strokeWidth": 1.6, "interpolate": "monotone"},
          "encoding": {
            "x": {"field": "x", "type": "quantitative", "scale": {"domain": [0, 1], "nice": false, "zero": false},
                  "axis": {"orient": "bottom", "title": "X/Bx", "values": [0,0.1,0.2,0.3,0.4,0.5,0.6,0.7,0.8,0.9,1.0], "labelExpr": "round(datum.value*10)%2==0 ? format(datum.value,'.1f') : ''"}},
            "y": {"field": "y", "type": "quantitative", "scale": {"domain": [0.1, 0.7], "nice": false, "zero": false},
                  "axis": {"orient": "left", "title": "P/Ptinlet", "values": [0.1,0.15,0.2,0.25,0.3,0.35,0.4,0.45,0.5,0.55,0.6,0.65,0.7], "labelExpr": "round(datum.value*20)%2==0 ? format(datum.value,'.1f') : ''"}},
            "detail": {"field": "side"},
            "color": {"field": "series", "type": "nominal", "scale": {"domain": ["Average","Minimum","Maximum"], "range": ["#4a4a4a","#8c8c8c","#a8a8a8"]},
                      "legend": {"orient": "none", "legendX": 334, "legendY": 18, "title": null, "symbolType": "M-2.5,0H2.5", "symbolSize": 256, "symbolStrokeWidth": 1.6, "labelOffset": 23, "rowPadding": 4, "padding": 0}},
            "strokeDash": {"field": "series", "type": "nominal", "scale": {"domain": ["Average","Minimum","Maximum"], "range": [[1,0],[5,3],[10,5]]},
                      "legend": {"orient": "none", "legendX": 334, "legendY": 18, "title": null, "symbolType": "M-2.5,0H2.5", "symbolSize": 256, "symbolStrokeWidth": 1.6, "labelOffset": 23, "rowPadding": 4, "padding": 0}}
          }
        },
        {
          "data": {"name": "points"},
          "transform": [{"filter": "datum.panel == '50' && datum.exp == 'Maximum'"}],
          "mark": {"type": "point", "shape": "triangle-up", "filled": true, "size": 60, "opacity": 1, "color": "#8e8e8e"},
          "encoding": {
            "x": {"field": "x", "type": "quantitative", "scale": {"domain": [0, 1], "nice": false, "zero": false},
                  "axis": {"orient": "top", "title": null, "labels": false, "values": [0,0.1,0.2,0.3,0.4,0.5,0.6,0.7,0.8,0.9,1.0]}},
            "y": {"field": "y", "type": "quantitative", "scale": {"domain": [0.1, 0.7], "nice": false, "zero": false},
                  "axis": {"orient": "right", "title": null, "labels": false, "values": [0.1,0.15,0.2,0.25,0.3,0.35,0.4,0.45,0.5,0.55,0.6,0.65,0.7]}}
          }
        },
        {
          "data": {"name": "points"},
          "transform": [{"filter": "datum.panel == '50' && datum.exp == 'Minimum'"}],
          "mark": {"type": "point", "shape": "square", "filled": true, "size": 50, "opacity": 1, "color": "#8e8e8e"},
          "encoding": {
            "x": {"field": "x", "type": "quantitative", "scale": {"domain": [0, 1], "nice": false, "zero": false}, "axis": null},
            "y": {"field": "y", "type": "quantitative", "scale": {"domain": [0.1, 0.7], "nice": false, "zero": false}, "axis": null}
          }
        },
        {
          "data": {"name": "points"},
          "transform": [{"filter": "datum.panel == '50' && datum.exp == 'Average'"}],
          "mark": {"type": "point", "shape": "circle", "filled": true, "size": 60, "opacity": 1, "color": "#383838"},
          "encoding": {
            "x": {"field": "x", "type": "quantitative", "scale": {"domain": [0, 1], "nice": false, "zero": false}, "axis": null},
            "y": {"field": "y", "type": "quantitative", "scale": {"domain": [0.1, 0.7], "nice": false, "zero": false}, "axis": null}
          }
        }
      ]
    },
    {
      "width": 452, "height": 374,
      "title": {"text": "90% Span"},
      "resolve": {"axis": {"x": "independent", "y": "independent"}},
      "layer": [
        {
          "data": {"name": "curves"},
          "transform": [{"filter": "datum.panel == '90'"}],
          "mark": {"type": "line", "strokeWidth": 1.6, "interpolate": "monotone"},
          "encoding": {
            "x": {"field": "x", "type": "quantitative", "scale": {"domain": [0, 1], "nice": false, "zero": false},
                  "axis": {"orient": "bottom", "title": "X/Bx", "values": [0,0.1,0.2,0.3,0.4,0.5,0.6,0.7,0.8,0.9,1.0], "labelExpr": "round(datum.value*10)%2==0 ? format(datum.value,'.1f') : ''"}},
            "y": {"field": "y", "type": "quantitative", "scale": {"domain": [0.1, 0.7], "nice": false, "zero": false},
                  "axis": {"orient": "left", "title": "P/Ptinlet", "values": [0.1,0.15,0.2,0.25,0.3,0.35,0.4,0.45,0.5,0.55,0.6,0.65,0.7], "labelExpr": "round(datum.value*20)%2==0 ? format(datum.value,'.1f') : ''"}},
            "detail": {"field": "side"},
            "color": {"field": "series", "type": "nominal", "scale": {"domain": ["Average","Minimum","Maximum"], "range": ["#4a4a4a","#8c8c8c","#a8a8a8"]},
                      "legend": {"orient": "none", "legendX": 334, "legendY": 18, "title": null, "symbolType": "M-2.5,0H2.5", "symbolSize": 256, "symbolStrokeWidth": 1.6, "labelOffset": 23, "rowPadding": 4, "padding": 0}},
            "strokeDash": {"field": "series", "type": "nominal", "scale": {"domain": ["Average","Minimum","Maximum"], "range": [[1,0],[5,3],[10,5]]},
                      "legend": {"orient": "none", "legendX": 334, "legendY": 18, "title": null, "symbolType": "M-2.5,0H2.5", "symbolSize": 256, "symbolStrokeWidth": 1.6, "labelOffset": 23, "rowPadding": 4, "padding": 0}}
          }
        },
        {
          "data": {"name": "points"},
          "transform": [{"filter": "datum.panel == '90' && datum.exp == 'Maximum'"}],
          "mark": {"type": "point", "shape": "triangle-up", "filled": true, "size": 60, "opacity": 1, "color": "#8e8e8e"},
          "encoding": {
            "x": {"field": "x", "type": "quantitative", "scale": {"domain": [0, 1], "nice": false, "zero": false},
                  "axis": {"orient": "top", "title": null, "labels": false, "values": [0,0.1,0.2,0.3,0.4,0.5,0.6,0.7,0.8,0.9,1.0]}},
            "y": {"field": "y", "type": "quantitative", "scale": {"domain": [0.1, 0.7], "nice": false, "zero": false},
                  "axis": {"orient": "right", "title": null, "labels": false, "values": [0.1,0.15,0.2,0.25,0.3,0.35,0.4,0.45,0.5,0.55,0.6,0.65,0.7]}}
          }
        },
        {
          "data": {"name": "points"},
          "transform": [{"filter": "datum.panel == '90' && datum.exp == 'Minimum'"}],
          "mark": {"type": "point", "shape": "square", "filled": true, "size": 50, "opacity": 1, "color": "#8e8e8e"},
          "encoding": {
            "x": {"field": "x", "type": "quantitative", "scale": {"domain": [0, 1], "nice": false, "zero": false}, "axis": null},
            "y": {"field": "y", "type": "quantitative", "scale": {"domain": [0.1, 0.7], "nice": false, "zero": false}, "axis": null}
          }
        },
        {
          "data": {"name": "points"},
          "transform": [{"filter": "datum.panel == '90' && datum.exp == 'Average'"}],
          "mark": {"type": "point", "shape": "circle", "filled": true, "size": 60, "opacity": 1, "color": "#383838"},
          "encoding": {
            "x": {"field": "x", "type": "quantitative", "scale": {"domain": [0, 1], "nice": false, "zero": false}, "axis": null},
            "y": {"field": "y", "type": "quantitative", "scale": {"domain": [0.1, 0.7], "nice": false, "zero": false}, "axis": null}
          }
        }
      ]
    }
  ],
  "config": {
    "view": {"stroke": "#1a1a1a", "strokeWidth": 1.2},
    "axis": {"grid": false, "domain": false, "ticks": true, "tickColor": "#1a1a1a", "tickSize": -5, "tickWidth": 1,
             "labelFont": "Liberation Sans", "labelFontSize": 15, "labelFontWeight": "bold", "labelColor": "#111111",
             "labelFlush": false, "labelOverlap": false, "labelPadding": 11,
             "titleFont": "Liberation Sans", "titleFontSize": 14, "titleFontWeight": "normal", "titleColor": "#111111", "titlePadding": 8},
    "axisY": {"labelPadding": 16, "titlePadding": 10},
    "legend": {"labelFont": "Liberation Sans", "labelFontSize": 14, "labelColor": "#111111"},
    "title": {"orient": "bottom", "font": "DejaVu Serif", "fontSize": 20, "fontWeight": "normal", "color": "#111111", "offset": 17, "anchor": "middle"}
  }
}
